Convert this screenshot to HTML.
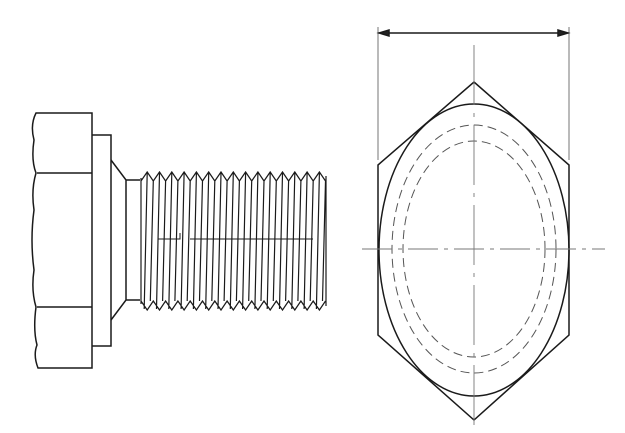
<!DOCTYPE html>
<html><head><meta charset="utf-8"><style>
html,body{margin:0;padding:0;background:#fff;width:625px;height:433px;overflow:hidden}
svg{display:block}
</style></head><body>
<svg id="d" width="625" height="433" viewBox="0 0 625 433" fill="none" stroke="#1a1a1a" stroke-width="1.5">
<g>
 <path d="M36,113 L92,113 L92,368 L38,368 Q33,355 37,345 Q33,330 36,307 Q31,290 34,270 Q30,240 34,210 Q31,190 36,173 Q31,160 34,140 Q30,125 36,113 Z"/>
 <line x1="37" y1="173" x2="92" y2="173"/>
 <line x1="37" y1="307" x2="92" y2="307"/>
 <path d="M92,135 L111,135 L111,346 L92,346"/>
 <path d="M111,160 L126,180 L140,180 M111,320 L126,300 L140,300 M126,180 L126,300"/>
 <g id="thread" stroke-width="1.2"></g>
 <path stroke-width="1" d="M158,239 L180,239 L180,233 M190,239 L313,239"/>
</g>
<g>
 <line stroke="#666" stroke-width="0.9" x1="378" y1="27" x2="378" y2="160"/>
 <line stroke="#666" stroke-width="0.9" x1="569" y1="27" x2="569" y2="160"/>
 <line x1="384" y1="33" x2="563" y2="33"/>
 <path fill="#222" d="M379,33 L389,30 L389,36 Z"/>
 <path fill="#222" d="M568,33 L558,30 L558,36 Z"/>
 <path d="M474,82 L569,165 L569,335 L474,420 L378,335 L378,165 Z"/>
 <ellipse cx="474" cy="250" rx="95" ry="146"/>
 <ellipse stroke="#555" stroke-width="1" stroke-dasharray="9,5" cx="474" cy="249" rx="82" ry="124"/>
 <ellipse stroke="#555" stroke-width="1" stroke-dasharray="9,5" cx="474" cy="249" rx="71" ry="108"/>
 <line stroke="#777" stroke-width="0.9" stroke-dasharray="30,6,4,6" x1="362" y1="249" x2="605" y2="249"/>
 <line stroke="#777" stroke-width="0.9" stroke-dasharray="60,8,4,8" x1="474" y1="45" x2="474" y2="430"/>
</g>
</svg>
<script>
var threadStart=141, threadEnd=326, pitch=12.3;
var tg=document.getElementById('thread');
var svgNs='http://www.w3.org/2000/svg';
var topPath='M'+threadStart+',181', botPath='M'+threadStart+',301', flankPath='';
for(var tx=threadStart;tx+pitch<=threadEnd+2;tx+=pitch){
  topPath+=' L'+(tx+pitch/2).toFixed(1)+',172 L'+(tx+pitch).toFixed(1)+',181';
  botPath+=' L'+(tx+pitch/2).toFixed(1)+',310 L'+(tx+pitch).toFixed(1)+',301';
  flankPath+=' M'+(tx+pitch/2).toFixed(1)+',173 L'+(tx+pitch/2-3).toFixed(1)+',309';
  flankPath+=' M'+(tx+pitch).toFixed(1)+',181 L'+(tx+pitch-3).toFixed(1)+',301';
}
var tp=document.createElementNS(svgNs,'path');
tp.setAttribute('d',topPath+' '+botPath+' '+flankPath+' M'+threadStart+',178 L'+threadStart+',304 M'+threadEnd+',176 L'+threadEnd+',306');


tg.appendChild(tp);
</script>
</body></html>
